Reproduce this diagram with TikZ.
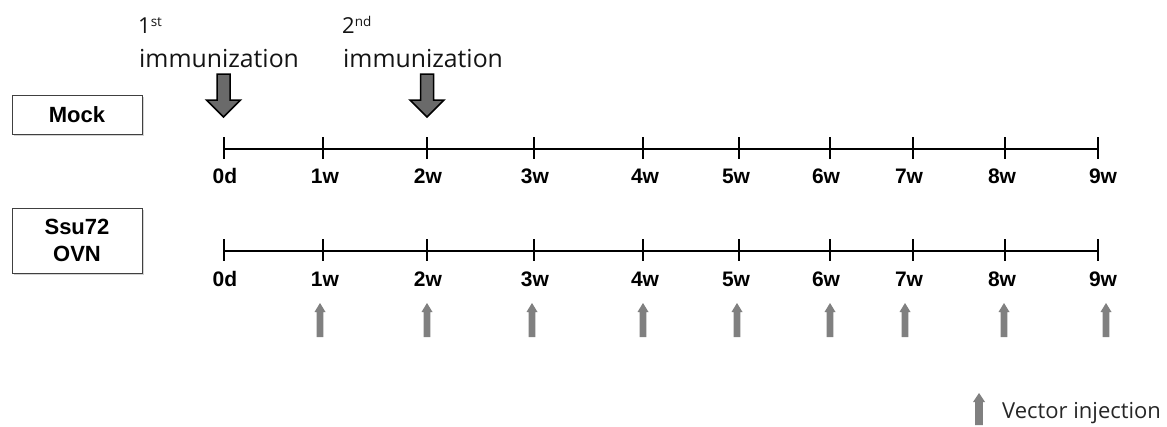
\documentclass[tikz,border=0pt]{standalone}
\usepackage{fontspec}
\setmainfont{Liberation Sans}
\newfontfamily\lightfont{Open Sans}
\usetikzlibrary{shadows}
\definecolor{bigarrow}{HTML}{6A6A6A}
\definecolor{smallarrow}{HTML}{808080}
\tikzset{
  groupbox/.style={draw=black!75, line width=1pt, fill=white, minimum width=130pt, align=center,
    font=\fontsize{22}{27}\selectfont\bfseries,
    drop shadow={shadow xshift=2pt, shadow yshift=-2pt, opacity=0.35}},
  axis/.style={line width=2pt, black},
  tick/.style={line width=1.6pt, black},
  ticklabel/.style={font=\fontsize{21}{24}\selectfont\bfseries, inner sep=0pt},
  immtext/.style={font=\lightfont\fontsize{24.8}{28}\selectfont, inner sep=0pt, anchor=base west, text=black!92},
  bigarr/.style={fill=bigarrow, draw=black, line width=1.5pt, line join=miter},
  smallarr/.style={fill=smallarrow, draw=none},
}
\begin{document}
\begin{tikzpicture}[x=1pt,y=-1pt]
\useasboundingbox (0,0) rectangle (1167,426);
% group boxes
\node[groupbox, minimum height=39pt] (mock) at (77,114.5) {Mock};
\node[groupbox, minimum height=65pt] (ssu) at (77,240.5) {Ssu72\\OVN};
% immunization labels
\node[immtext] (imm1) at (139,67) {immunization};
\node[immtext, font=\lightfont\fontsize{22}{24}\selectfont] (first) at (138,33) {1\raisebox{7pt}{\fontsize{13.5}{15}\selectfont st}};
\node[immtext] (imm2) at (343,67) {immunization};
\node[immtext, font=\lightfont\fontsize{22}{24}\selectfont] (second) at (342,33) {2\raisebox{7pt}{\fontsize{13.5}{15}\selectfont nd}};
% big arrows
\foreach \name/\x in {a1/223.5, a2/427} {
  \coordinate (\name) at (\x,117);
  \draw[bigarr] ([xshift=-6.5pt,yshift=43pt]\name) -- ([xshift=6.5pt,yshift=43pt]\name)
     -- ([xshift=6.5pt,yshift=17pt]\name) -- ([xshift=17pt,yshift=17pt]\name)
     -- (\name) -- ([xshift=-17pt,yshift=17pt]\name) -- ([xshift=-6.5pt,yshift=17pt]\name) -- cycle;
}
% timelines
\foreach \i/\x/\lx/\lab in {0/224/225/0d, 1/323/325/1w, 2/427/428/2w, 3/534/535/3w, 4/643/645/4w, 5/739/736/5w, 6/830/826/6w, 7/913/909/7w, 8/1005/1002/8w, 9/1098/1103/9w} {
  \coordinate (t\i) at (\x,149);
  \coordinate (b\i) at (\x,251);
  \node[ticklabel] (tl\i) at (\lx,176) {\lab};
  \node[ticklabel] (bl\i) at (\lx,279) {\lab};
}
\draw[axis] (t0) -- (t9);
\draw[axis] (b0) -- (b9);
\foreach \i in {0,...,9} {
  \draw[tick] ([yshift=12pt]t\i) -- ([yshift=-10pt]t\i);
  \draw[tick] ([yshift=12pt]b\i) -- ([yshift=-10pt]b\i);
}
% vector injection arrows
\foreach \i/\x in {1/320, 2/427, 3/532, 4/643, 5/737, 6/830, 7/905, 8/1004, 9/1106} {
  \coordinate (v\i) at (\x,303);
  \fill[smallarr] (v\i) -- ([xshift=5.5pt,yshift=-9pt]v\i) -- ([xshift=3.4pt,yshift=-9pt]v\i)
    -- ([xshift=3.4pt,yshift=-34pt]v\i) -- ([xshift=-3.4pt,yshift=-34pt]v\i)
    -- ([xshift=-3.4pt,yshift=-9pt]v\i) -- ([xshift=-5.5pt,yshift=-9pt]v\i) -- cycle;
}
% legend
\coordinate (lg) at (979,393);
\fill[smallarr] (lg) -- ([xshift=6pt,yshift=-9pt]lg) -- ([xshift=3.8pt,yshift=-9pt]lg)
    -- ([xshift=3.8pt,yshift=-32pt]lg) -- ([xshift=-3.8pt,yshift=-32pt]lg)
    -- ([xshift=-3.8pt,yshift=-9pt]lg) -- ([xshift=-6pt,yshift=-9pt]lg) -- cycle;
\node[immtext, font=\lightfont\fontsize{22}{26}\selectfont, text=black!85] (legend) at (1002,418) {Vector injection};
\end{tikzpicture}
\end{document}
